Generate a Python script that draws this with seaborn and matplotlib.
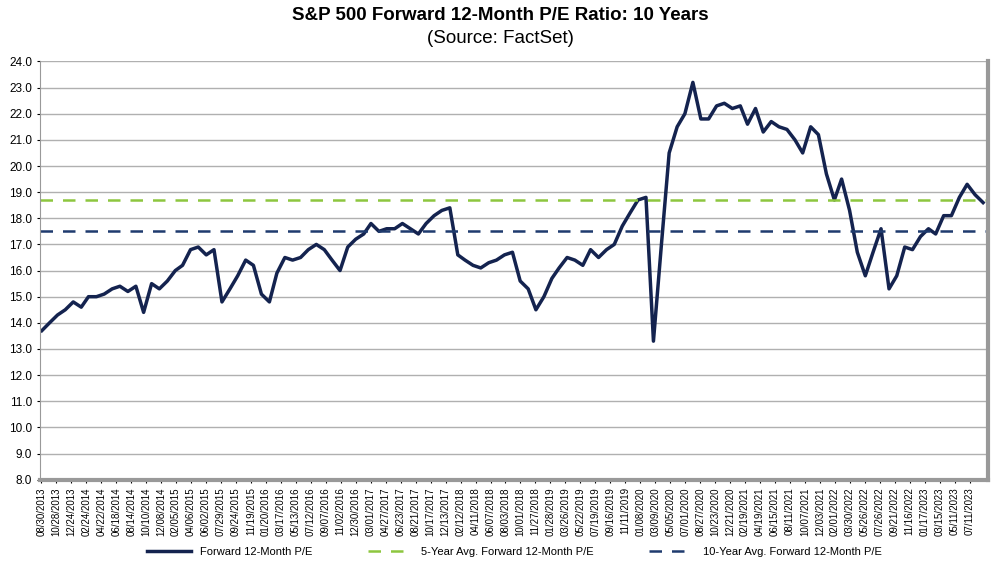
import matplotlib
matplotlib.use("Agg")
import matplotlib.pyplot as plt
import matplotlib.dates as mdates
import seaborn as sns
import pandas as pd
import numpy as np

months = pd.date_range("2013-09-01", "2023-09-01", freq="MS")
pe_values = [13.7, 14.0, 14.3, 14.5,
 14.8, 14.6, 15.0, 15.0, 15.1, 15.3, 15.4, 15.2, 15.4, 14.4, 15.5, 15.3,
 15.6, 16.0, 16.2, 16.8, 16.9, 16.6, 16.8, 14.8, 15.3, 15.8, 16.4, 16.2,
 15.1, 14.8, 15.9, 16.5, 16.4, 16.5, 16.8, 17.0, 16.8, 16.4, 16.0, 16.9,
 17.2, 17.4, 17.8, 17.5, 17.6, 17.6, 17.8, 17.6, 17.4, 17.8, 18.1, 18.3,
 18.4, 16.6, 16.4, 16.2, 16.1, 16.3, 16.4, 16.6, 16.7, 15.6, 15.3, 14.5,
 15.0, 15.7, 16.1, 16.5, 16.4, 16.2, 16.8, 16.5, 16.8, 17.0, 17.7, 18.2,
 18.7, 18.8, 13.3, 17.0, 20.5, 21.5, 22.0, 23.2, 21.8, 21.8, 22.3, 22.4,
 22.2, 22.3, 21.6, 22.2, 21.3, 21.7, 21.5, 21.4, 21.0, 20.5, 21.5, 21.2,
 19.7, 18.7, 19.5, 18.3, 16.7, 15.8, 16.7, 17.6, 15.3, 15.8, 16.9, 16.8,
 17.3, 17.6, 17.4, 18.1, 18.1, 18.8, 19.3, 18.9, 18.6]
avg5 = 18.7
avg10 = 17.5
tick_labels = ["08/30/2013","10/28/2013","12/24/2013","02/24/2014","04/22/2014","06/18/2014","08/14/2014","10/10/2014","12/08/2014",
 "02/05/2015","04/06/2015","06/02/2015","07/29/2015","09/24/2015","11/19/2015","01/20/2016","03/17/2016","05/13/2016","07/12/2016",
 "09/07/2016","11/02/2016","12/30/2016","03/01/2017","04/27/2017","06/23/2017","08/21/2017","10/17/2017","12/13/2017","02/12/2018",
 "04/11/2018","06/07/2018","08/03/2018","10/01/2018","11/27/2018","01/28/2019","03/26/2019","05/22/2019","07/19/2019","09/16/2019",
 "11/11/2019","01/08/2020","03/09/2020","05/05/2020","07/01/2020","08/27/2020","10/23/2020","12/21/2020","02/19/2021","04/19/2021",
 "06/15/2021","08/11/2021","10/07/2021","12/03/2021","02/01/2022","03/30/2022","05/26/2022","07/26/2022","09/21/2022","11/16/2022",
 "01/17/2023","03/15/2023","05/11/2023","07/11/2023"]

df = pd.DataFrame({"date": months, "pe": pe_values})
plt.rcParams["font.family"] = "Liberation Sans"
fig = plt.figure(figsize=(10, 5.69), dpi=100)
ax = fig.add_axes([0.04, 0.157, 0.948, 0.735])
sns.lineplot(data=df, x="date", y="pe", ax=ax, color="#14234f", lw=2.5, label="Forward 12-Month P/E")
ax.axhline(avg5, color="#8dc63f", ls=(0, (5, 4)), lw=1.8, label="5-Year Avg. Forward 12-Month P/E")
ax.axhline(avg10, color="#1f3b6e", ls=(0, (5, 4)), lw=1.8, label="10-Year Avg. Forward 12-Month P/E")
tick_dates = pd.to_datetime(tick_labels, format="%m/%d/%Y")
t0, t1 = mdates.date2num(tick_dates[0]), mdates.date2num(tick_dates[-1])
ax.set_xticks(np.linspace(t0, t1, len(tick_labels)))
ax.set_xticklabels(tick_labels, rotation=90, fontsize=7)
ax.set_xlim(pd.Timestamp("2013-08-25"), pd.Timestamp("2023-09-20"))
ax.set_ylim(8, 24)
ax.set_yticks(np.arange(8, 24.1, 1))
ax.set_yticklabels([f"{v:.1f}" for v in np.arange(8, 24.1, 1)], fontsize=8.5)
ax.grid(axis="y", color="#b0b0b0", lw=1)
ax.set_axisbelow(True)
ax.set_xlabel(""); ax.set_ylabel("")
ax.spines["top"].set_visible(False)
ax.spines["left"].set_color("#999999")
ax.spines["bottom"].set_color("#999999"); ax.spines["bottom"].set_linewidth(3)
ax.spines["right"].set_color("#999999"); ax.spines["right"].set_linewidth(3)
ax.tick_params(length=2)
fig.text(0.5, 0.972, "S&P 500 Forward 12-Month P/E Ratio: 10 Years", ha="center", va="center", fontsize=13.5, fontweight="bold")
fig.text(0.5, 0.932, "(Source: FactSet)", ha="center", va="center", fontsize=13.5)
ax.legend(loc="center", bbox_to_anchor=(0.5, -0.172), ncol=3, frameon=False, fontsize=8, handlelength=4, columnspacing=5)
fig.savefig("out.png", dpi=100)
